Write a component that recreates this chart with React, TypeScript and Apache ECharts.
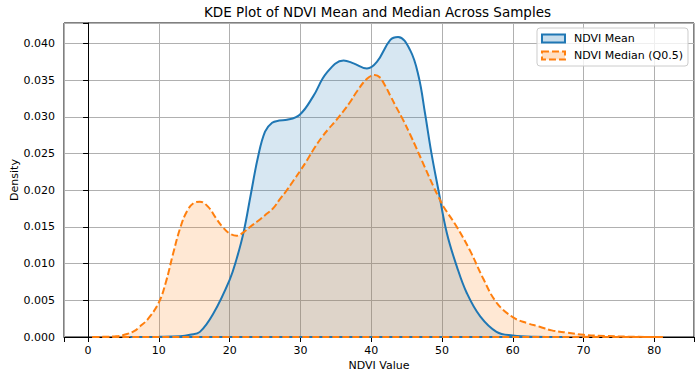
import React, { useEffect, useRef } from "react";
import * as echarts from "echarts";

const titleText = "KDE Plot of NDVI Mean and Median Across Samples";
const xAxisName = "NDVI Value";
const yAxisName = "Density";
const seriesNames = ["NDVI Mean", "NDVI Median (Q0.5)"];

const meanX = [6, 10, 13, 14.4, 15.8, 17.7, 20, 21, 22, 23, 24, 25, 26, 27, 28.1, 29.9, 31.8, 33.7, 36.1, 37.5, 39.4, 40.8, 42.7, 43.8, 45.5, 46.7, 47.6, 48.5, 49.5, 50.7, 52.1, 53.5, 55.4, 57.7, 60, 63, 67];
const meanY = [0, 0.00002, 0.0001, 0.0003, 0.0007, 0.0032, 0.0078, 0.0107, 0.0144, 0.0195, 0.0245, 0.028, 0.0292, 0.0295, 0.0296, 0.0303, 0.0328, 0.036, 0.0377, 0.0373, 0.0366, 0.0375, 0.0405, 0.0409, 0.0391, 0.0355, 0.0305, 0.0251, 0.02, 0.0141, 0.0096, 0.006, 0.0028, 0.0007, 0.0002, 0.00003, 0];

const medianX = [0.6, 2, 4, 5.5, 6.5, 7.3, 8.5, 10, 11, 12, 13, 14, 15, 15.8, 17, 18, 19, 20, 21, 22, 23, 24, 25, 26.2, 27.1, 28, 29, 30, 31, 32, 33, 34, 35.1, 36, 37, 38, 39.4, 40.5, 41.2, 42, 42.7, 43.5, 44.5, 45.5, 46.4, 47.5, 48.8, 49.5, 50.2, 52.1, 54, 55.8, 57.7, 60, 62, 63.8, 65.5, 67.6, 70, 73, 76, 81.2];
const medianY = [0, 0.00002, 0.0001, 0.0004, 0.0008, 0.0014, 0.0025, 0.0047, 0.0075, 0.0113, 0.0148, 0.0172, 0.0183, 0.01845, 0.0177, 0.0163, 0.015, 0.0141, 0.0138, 0.0143, 0.0151, 0.0158, 0.0166, 0.0176, 0.0188, 0.0199, 0.0213, 0.0227, 0.0242, 0.0258, 0.0272, 0.0284, 0.0296, 0.0307, 0.032, 0.0335, 0.0352, 0.0357, 0.0354, 0.0342, 0.0329, 0.0314, 0.0296, 0.0276, 0.0257, 0.0233, 0.0205, 0.0191, 0.0178, 0.015, 0.0117, 0.008, 0.0047, 0.0027, 0.0019, 0.0014, 0.0009, 0.0006, 0.0003, 0.00015, 0.00005, 0];

const FONT = "DejaVu Sans";
const BLUE = "#1f77b4";
const ORANGE = "#ff7f0e";

export default function App() {
  const ref = useRef<HTMLDivElement>(null);
  useEffect(() => {
    document.body.style.margin = "0";
    const chart = echarts.init(ref.current!, null, { renderer: "svg" });
    const meanData = meanX.map((x, i) => [x, meanY[i]]);
    const medianData = medianX.map((x, i) => [x, medianY[i]]);
    const meanBase = [[meanX[0], 0], [meanX[meanX.length - 1], 0]];
    const medianBase = [[medianX[0], 0], [medianX[medianX.length - 1], 0]];
    chart.setOption({
      animation: false,
      title: {
        text: titleText,
        left: 204,
        top: 5,
        padding: 0,
        textStyle: { fontFamily: FONT, fontSize: 13.5, fontWeight: "normal", color: "#000" },
      },
      grid: {
        left: 64,
        right: 6,
        top: 23,
        bottom: 40,
        show: true,
        borderColor: "#000",
        borderWidth: 1,
        backgroundColor: "transparent",
        outerBoundsMode: "none",
        containLabel: false,
      },
      legend: {
        orient: "vertical",
        right: 12,
        top: 28,
        itemWidth: 23,
        itemHeight: 8,
        itemGap: 4,
        padding: [4, 5, 4, 4],
        backgroundColor: "rgba(255,255,255,0.8)",
        borderColor: "#cccccc",
        borderWidth: 1,
        borderRadius: 3,
        textStyle: { fontFamily: FONT, fontSize: 11, color: "#000", padding: [0, 0, 0, 4], lineHeight: 13 },
        data: [
          {
            name: seriesNames[0],
            icon: "rect",
            itemStyle: { color: "rgba(31,119,180,0.25)", borderColor: BLUE, borderWidth: 2 },
          },
          {
            name: seriesNames[1],
            icon: "rect",
            itemStyle: { color: "rgba(255,127,14,0.25)", borderColor: ORANGE, borderWidth: 2, borderType: [7, 3] },
          },
        ],
      },
      xAxis: {
        type: "value",
        min: -3.4,
        max: 85.6,
        splitNumber: 9,
        name: xAxisName,
        nameLocation: "middle",
        nameGap: 23,
        nameMoveOverlap: false,
        nameTextStyle: { fontFamily: FONT, fontSize: 11, color: "#000" },
        axisLine: { show: true, lineStyle: { color: "#000", width: 1 } },
        axisTick: { show: true, length: 5, lineStyle: { color: "#000" } },
        axisLabel: {
          fontFamily: FONT,
          fontSize: 11,
          color: "#000",
          margin: 8,
          formatter: (v: number) => (Math.abs(v - Math.round(v / 10) * 10) < 1e-9 ? String(Math.round(v)) : ""),
        },
        splitLine: { show: true, lineStyle: { color: "#b0b0b0", width: 1 } },
      },
      yAxis: {
        type: "value",
        min: 0,
        max: 0.0428,
        splitNumber: 9,
        name: yAxisName,
        nameLocation: "middle",
        nameGap: 44,
        nameMoveOverlap: false,
        nameTextStyle: { fontFamily: FONT, fontSize: 11, color: "#000" },
        axisLine: { show: true, lineStyle: { color: "#000", width: 1 } },
        axisTick: { show: true, length: 5, lineStyle: { color: "#000" } },
        axisLabel: {
          fontFamily: FONT,
          fontSize: 11,
          color: "#000",
          margin: 9,
          formatter: (v: number) =>
            Math.abs(v - Math.round(v / 0.005) * 0.005) < 1e-9 ? v.toFixed(3) : "",
        },
        splitLine: { show: true, lineStyle: { color: "#b0b0b0", width: 1 } },
      },
      series: [
        {
          name: seriesNames[0],
          type: "line",
          data: meanData,
          smooth: 0.4,
          symbol: "none",
          lineStyle: { color: BLUE, width: 2 },
          itemStyle: { color: BLUE },
          areaStyle: { color: "rgba(31,119,180,0.25)" },
        },
        {
          name: seriesNames[1],
          type: "line",
          data: medianData,
          smooth: 0.4,
          symbol: "none",
          lineStyle: { color: ORANGE, width: 2, type: [7, 3] },
          itemStyle: { color: ORANGE },
          areaStyle: { color: "rgba(255,127,14,0.25)" },
        },
        {
          name: "meanBase",
          type: "line",
          data: meanBase,
          symbol: "none",
          lineStyle: { color: BLUE, width: 2 },
          silent: true,
        },
        {
          name: "medianBase",
          type: "line",
          data: medianBase,
          symbol: "none",
          lineStyle: { color: ORANGE, width: 2, type: [7, 3] },
          silent: true,
        },
      ],
    });
    return () => chart.dispose();
  }, []);
  return <div ref={ref} style={{ width: 700, height: 377 }} />;
}
